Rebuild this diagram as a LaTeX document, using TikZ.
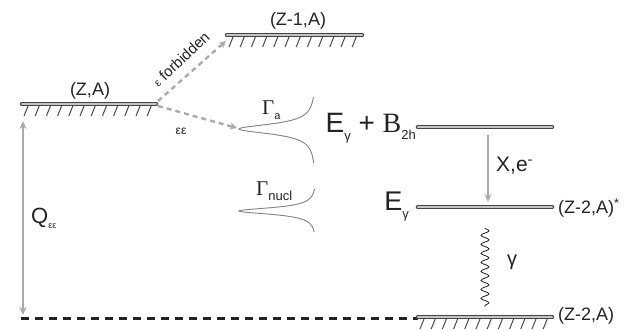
\documentclass[tikz,border=0pt]{standalone}
\usepackage{fontspec}
\setmainfont{Liberation Sans}
\newfontfamily\serifgr{Liberation Serif}
\usetikzlibrary{decorations.pathmorphing,arrows.meta}

\definecolor{edgegray}{HTML}{444444}
\definecolor{fillgray}{HTML}{C4C4C4}
\definecolor{arrowgray}{HTML}{AAAAAA}
\definecolor{inkdark}{HTML}{222222}

\newcommand{\fs}[1]{\fontsize{#1}{#1}\selectfont}
\newcommand{\lowsub}[2]{\raisebox{#1}{\fs{11}#2}}

\tikzset{
  levelbar/.style={draw=edgegray, line width=1.1pt, double=fillgray,
    double distance=2.4pt, line cap=round},
  hatchline/.style={draw=edgegray, line width=1pt},
  transarrow/.style={draw=arrowgray, line width=2.4pt, dash pattern=on 5pt off 4pt,
    -{Stealth[length=7pt,width=7pt]}},
  solidarrow/.style={draw=arrowgray, line width=2.8pt, -{Stealth[length=8pt,width=7pt]}},
  bothways/.style={draw=arrowgray, line width=2.8pt,
    {Stealth[length=8pt,width=7pt]}-{Stealth[length=8pt,width=7pt]}},
  peak/.style={draw=gray, line width=0.9pt},
  label/.style={inner sep=0pt, text=inkdark},
}

\begin{document}
\begin{tikzpicture}[x=1pt,y=-1pt]
\useasboundingbox (0,0) rectangle (625,330);

% level end points
\coordinate (za-l) at (22,104);   \coordinate (za-r) at (156,104);
\coordinate (zm-l) at (227,35);   \coordinate (zm-r) at (362,35);
\coordinate (bh-l) at (418,127);  \coordinate (bh-r) at (552,127);
\coordinate (ex-l) at (418,207);  \coordinate (ex-r) at (552,207);
\coordinate (gs-l) at (418,317);  \coordinate (gs-r) at (552,317);

% hatching under the bound levels
\foreach \x in {0,...,11}{
  \draw[hatchline] (28+11.2*\x,106) -- (24+11.2*\x,116);
  \draw[hatchline] (233+11.2*\x,37) -- (229+11.2*\x,47);
  \draw[hatchline] (424+11.2*\x,319) -- (420+11.2*\x,329);
}

% energy levels
\draw[levelbar] (za-l) -- (za-r);
\draw[levelbar] (zm-l) -- (zm-r);
\draw[levelbar] (bh-l) -- (bh-r);
\draw[levelbar] (ex-l) -- (ex-r);

% Q value reference line
\coordinate (qline) at (21,318);
\draw[inkdark, line width=3pt, dash pattern=on 8pt off 6pt] (qline) -- (gs-l |- qline);
\draw[levelbar] (gs-l) -- (gs-r);

% level labels
\node[label, font=\fs{18}] (lza) at (90,91) {(Z,A)};
\node[label, font=\fs{18}] (lzm) at (298,21) {(Z-1,A)};
\node[label, font=\fs{18}, anchor=west] (lex) at (558,208) {(Z-2,A)\textsuperscript{*}};
\node[label, font=\fs{18}, anchor=west] (lgs) at (558,316) {(Z-2,A)};

% decay channels
\coordinate (forbtip) at (226,41);
\coordinate (eetip) at (237,128);
\draw[transarrow] (158,101) -- (forbtip);
\draw[transarrow] (158,106) -- (eetip);
\node[label, font=\fs{15}, rotate=43] (lforb) at (181,59) {{\fs{11}ε} forbidden};
\node[label, font=\fs{12}] (lee) at (181,131) {εε};

% resonance line shapes
\draw[peak] plot[domain=97:163, samples=120, variable=\t]
  ({316-77/(1+((\t-129)/6)^2)}, \t);
\draw[peak] plot[domain=189:232, samples=120, variable=\t]
  ({317-78/(1+((\t-211)/4)^2)}, \t);
\node[label, anchor=west] (lga) at (262,110) {{\serifgr\fs{21}Γ}\lowsub{-5pt}{a}};
\node[label, anchor=west] (lgn) at (256,191) {{\serifgr\fs{21}Γ}\lowsub{-5pt}{\fs{13}nucl}};

% final-state energies
\node[label, anchor=east, font=\fs{28}] (lbh) at (416,128)
  {E\lowsub{-8pt}{\fs{13}γ} + {\serifgr B}\lowsub{-7pt}{\fs{13}2h}};
\node[label, anchor=east, font=\fs{27}] (leg) at (409,207) {E\lowsub{-8pt}{\fs{13}γ}};

% de-excitation
\coordinate (xtop) at (488,135);
\coordinate (xbot) at (488,202);
\draw[solidarrow] (xtop) -- (xbot);
\node[label, font=\fs{21}, anchor=west] (lxe) at (496,166) {X,e\textsuperscript{-}};
\coordinate (gtop) at (485,228);
\coordinate (gbot) at (485,307);
\draw[inkdark, line width=0.8pt, decorate,
  decoration={snake, segment length=9pt, amplitude=4pt}] (gtop) -- (gbot);
\node[label, font=\fs{20}] (lgam) at (512,262) {γ};

% Q value
\coordinate (qtop) at (23,121);
\coordinate (qbot) at (23,315);
\draw[bothways] (qtop) -- (qbot);
\node[label, anchor=west] (lq) at (31,218) {{\fs{22}Q}\lowsub{-5pt}{\fs{9}εε}};
\end{tikzpicture}
\end{document}
